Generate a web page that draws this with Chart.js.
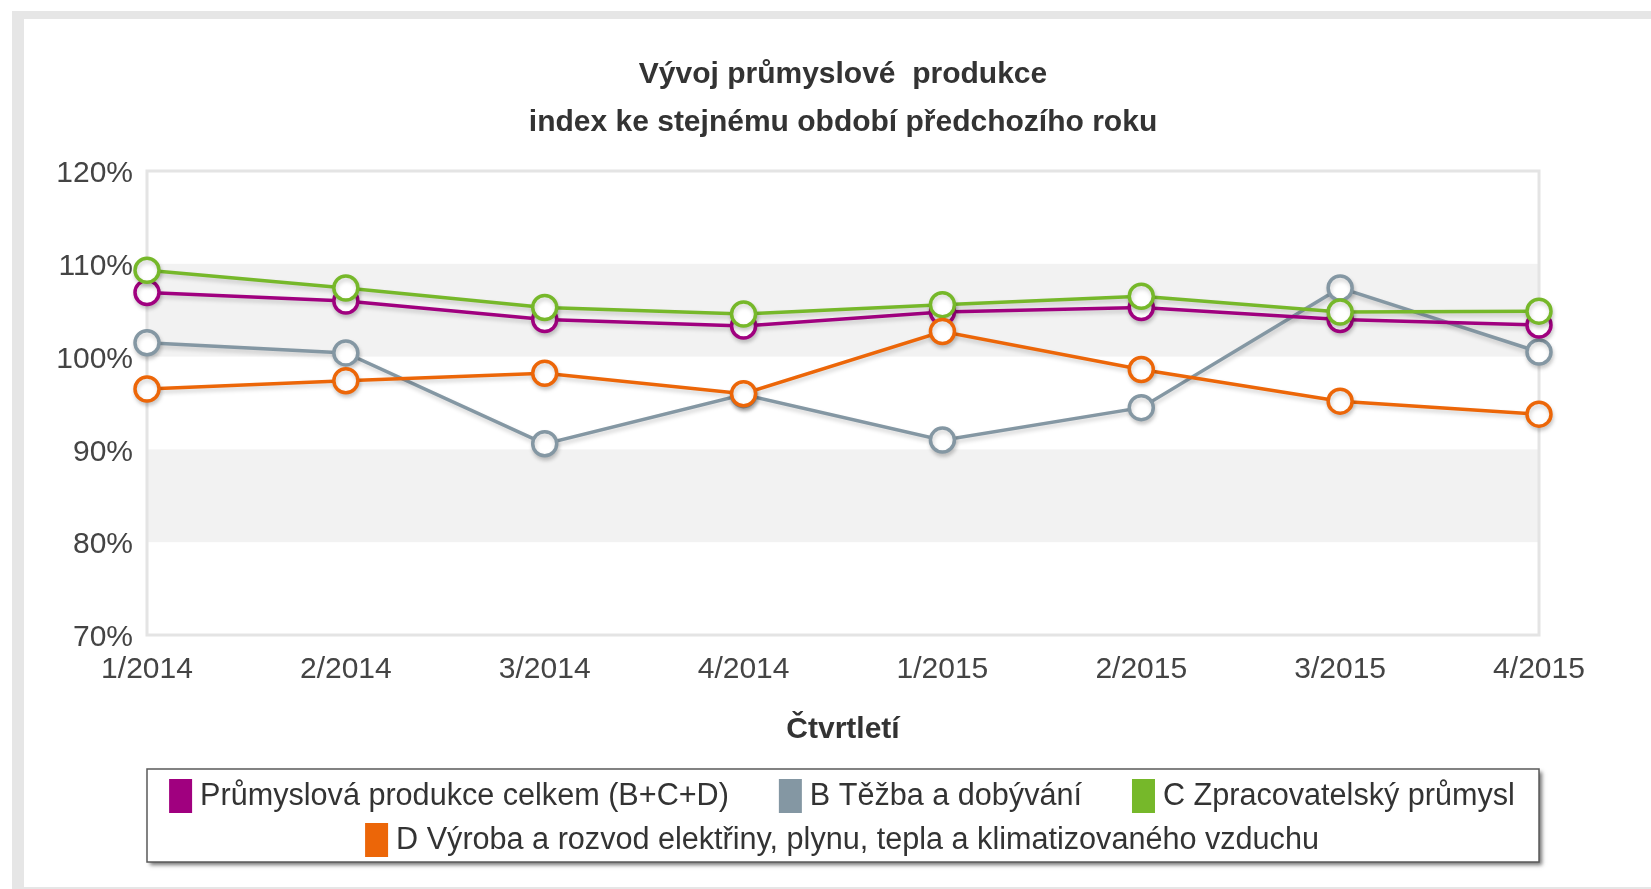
<!DOCTYPE html>
<html>
<head>
<meta charset="utf-8">
<script src="https://cdn.jsdelivr.net/npm/chart.js@4.4.1/dist/chart.umd.min.js"></script>
<style>
html,body{margin:0;padding:0;background:#fff;width:1651px;height:889px;overflow:hidden;}
#frame{position:absolute;left:12px;top:11px;width:1700px;height:878px;box-sizing:border-box;border-left:12px solid #e6e6e6;border-top:8px solid #e6e6e6;border-bottom:2px solid #e6e6e6;}
#wrap{position:absolute;left:0;top:0;width:1651px;height:889px;}
</style>
</head>
<body>
<div id="frame"></div>
<div id="wrap"><canvas id="c" width="1651" height="889"></canvas></div>
<script>
// ---- data ----
const titleLines = ['Vývoj průmyslové  produkce', 'index ke stejnému období předchozího roku'];
const xTitle = 'Čtvrtletí';
const categories = ['1/2014', '2/2014', '3/2014', '4/2014', '1/2015', '2/2015', '3/2015', '4/2015'];
const seriesNames = [
  'Průmyslová produkce celkem (B+C+D)',
  'B Těžba a dobývání',
  'C Zpracovatelský průmysl',
  'D Výroba a rozvod elektřiny, plynu, tepla a klimatizovaného vzduchu'
];
const celkem = [106.9, 106.0, 104.0, 103.3, 104.8, 105.3, 104.0, 103.4];
const tezba = [101.5, 100.4, 90.6, 95.9, 91.0, 94.5, 107.4, 100.5];
const zpracovatelsky = [109.3, 107.4, 105.3, 104.6, 105.6, 106.5, 104.8, 104.9];
const energie = [96.5, 97.4, 98.2, 96.0, 102.7, 98.6, 95.2, 93.8];
const yMin = 70, yMax = 120, yStep = 10;

// ---- style ----
const FONT = '"Liberation Sans", Arial, Helvetica, sans-serif';
Chart.defaults.font.family = FONT;
const colors = ['#a0007f', '#8497a3', '#76b82a', '#ec6608'];
const drawOrder = [2, 3, 1, 0];

const bandsPlugin = {
  id: 'bands',
  beforeDatasetsDraw(chart) {
    const {ctx, chartArea: a, scales: {y}} = chart;
    ctx.save();
    ctx.fillStyle = '#f2f2f2';
    const ticks = y.ticks.map(t => t.value).sort((p, q) => p - q);
    for (let i = 1; i + 1 < ticks.length; i += 2) {
      const top = y.getPixelForValue(ticks[i + 1]);
      const bot = y.getPixelForValue(ticks[i]);
      ctx.fillRect(a.left, top, a.right - a.left, bot - top);
    }
    ctx.strokeStyle = '#e4e4e4';
    ctx.lineWidth = 3;
    ctx.strokeRect(a.left, a.top, a.right - a.left, a.bottom - a.top);
    ctx.restore();
  }
};

const shadowPlugin = {
  id: 'lineShadow',
  beforeDatasetDraw(chart) {
    const ctx = chart.ctx;
    ctx.save();
    ctx.shadowColor = 'rgba(0,0,0,0.18)';
    ctx.shadowBlur = 4;
    ctx.shadowOffsetX = 1;
    ctx.shadowOffsetY = 3;
  },
  afterDatasetDraw(chart) {
    chart.ctx.restore();
  }
};

const legendPlugin = {
  id: 'boxLegend',
  afterDraw(chart) {
    const {ctx, chartArea: a} = chart;
    const SW = 23, SH = 34, GAP = 8, ITEMGAP = 50;
    const bx = a.left, by = 769, bw = a.right - a.left, bh = 93;
    ctx.save();
    ctx.shadowColor = 'rgba(0,0,0,0.55)';
    ctx.shadowBlur = 4;
    ctx.shadowOffsetX = 3;
    ctx.shadowOffsetY = 3;
    ctx.fillStyle = '#fff';
    ctx.fillRect(bx, by, bw, bh);
    ctx.restore();
    ctx.save();
    ctx.strokeStyle = '#5a5a5a';
    ctx.lineWidth = 1.5;
    ctx.strokeRect(bx, by, bw, bh);
    ctx.font = '30.6px ' + FONT;
    const items = chart.data.datasets.map(d => ({
      text: d.label, color: d.borderColor,
      w: SW + GAP + ctx.measureText(d.label).width
    }));
    const rows = [];
    let cur = [], curW = 0;
    const maxW = bw - 40;
    items.forEach(it => {
      const add = (cur.length ? ITEMGAP : 0) + it.w;
      if (cur.length && curW + add > maxW) { rows.push({items: cur, w: curW}); cur = []; curW = 0; }
      curW += (cur.length ? ITEMGAP : 0) + it.w;
      cur.push(it);
    });
    if (cur.length) rows.push({items: cur, w: curW});
    const rowY = [796, 840];
    const cx = bx + bw / 2 - 1;
    ctx.textBaseline = 'middle';
    ctx.textAlign = 'left';
    rows.forEach((r, ri) => {
      let x = cx - r.w / 2;
      const cy = rowY[ri];
      r.items.forEach(it => {
        ctx.fillStyle = it.color;
        ctx.fillRect(x, cy - SH / 2, SW, SH);
        ctx.fillStyle = '#333';
        ctx.fillText(it.text, x + SW + GAP, cy + 1);
        x += it.w + ITEMGAP;
      });
    });
    ctx.restore();
  }
};

const seriesValues = [celkem, tezba, zpracovatelsky, energie];
const datasets = seriesNames.map((name, i) => ({
  label: name,
  data: seriesValues[i],
  borderColor: colors[i],
  backgroundColor: colors[i],
  borderWidth: 3.5,
  pointRadius: 12,
  pointHoverRadius: 12,
  pointBorderWidth: 3.5,
  pointBackgroundColor: '#ffffff',
  pointBorderColor: colors[i],
  tension: 0,
  fill: false,
  clip: false,
  order: drawOrder[i]
}));

new Chart(document.getElementById('c'), {
  type: 'line',
  data: { labels: categories, datasets },
  plugins: [bandsPlugin, shadowPlugin, legendPlugin],
  options: {
    responsive: false,
    animation: false,
    devicePixelRatio: 1,
    layout: { padding: { left: 30, right: 112, top: 0, bottom: 141 } },
    plugins: {
      legend: { display: false },
      tooltip: { enabled: false },
      title: {
        display: true,
        fullSize: false,
        text: titleLines,
        color: '#333',
        font: { family: FONT, size: 30, weight: 'bold', lineHeight: 1.6 },
        padding: { top: 51, bottom: 24 }
      }
    },
    scales: {
      x: {
        type: 'category',
        offset: false,
        grid: { display: false, drawTicks: false },
        border: { display: false },
        afterFit(s) { s.height = 113; },
        ticks: { font: { size: 30 }, color: '#444', padding: 17, maxRotation: 0, autoSkip: false },
        title: { display: true, text: xTitle, color: '#333', font: { size: 30, weight: 'bold' }, padding: { top: 0, bottom: 0 } }
      },
      y: {
        min: yMin, max: yMax,
        grid: { display: false, drawTicks: false },
        border: { display: false },
        afterFit(s) { s.width = 117; },
        ticks: { stepSize: yStep, font: { size: 30 }, color: '#444', padding: 14, labelOffset: 3, callback: v => v + '%' }
      }
    }
  }
});
</script>
</body>
</html>
